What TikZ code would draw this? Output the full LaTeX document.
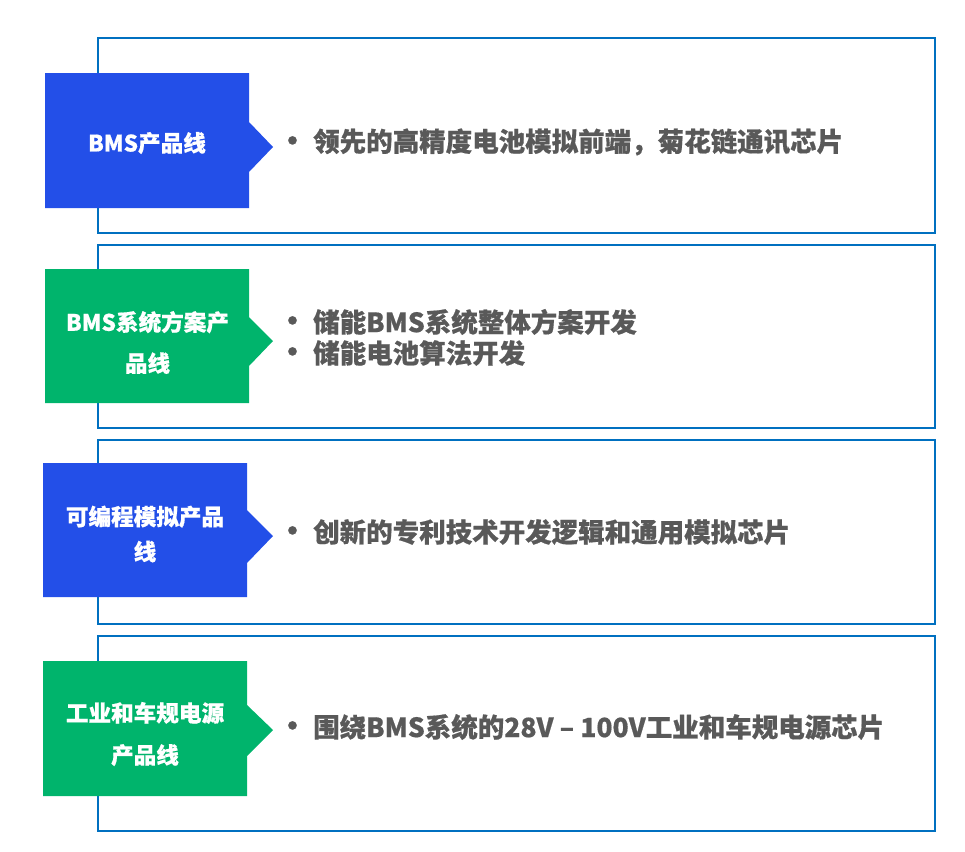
\documentclass[tikz,border=0pt]{standalone}
\usepackage{fontspec}
\newfontfamily\cjk{Noto Sans CJK SC}[BoldFeatures={FakeBold=0.6}]
\definecolor{lineblue}{HTML}{0070C0}
\definecolor{boxblue}{HTML}{234FE8}
\definecolor{boxgreen}{HTML}{00B46C}
\definecolor{textgray}{HTML}{595959}
\tikzset{
  frame/.style={draw=lineblue, line width=2pt},
  boxtext/.style={text=white, align=center, inner sep=0pt},
  itemtext/.style={text=textgray, anchor=west, inner sep=0pt,
    font=\cjk\bfseries\fontsize{26.5}{31}\selectfont},
  bullet/.style={text=textgray, inner sep=0pt,
    font=\cjk\bfseries\fontsize{30}{31}\selectfont}
}
\begin{document}
\begin{tikzpicture}[x=1pt,y=-1pt]
\useasboundingbox (0,0) rectangle (965,851);
% section frames
\draw[frame] (98,38) rectangle (935,233);
\draw[frame] (98,245) rectangle (935,428);
\draw[frame] (98,440) rectangle (935,624);
\draw[frame] (98,636) rectangle (935,831);
% boxes with pointers
\fill[boxblue] (45,73) -- (249,73) -- (249,122) -- (273,147) -- (249,172) -- (249,208) -- (45,208) -- cycle;
\fill[boxgreen] (45,269) -- (249,269) -- (249,317) -- (273,341) -- (249,366) -- (249,403) -- (45,403) -- cycle;
\fill[boxblue] (43,463) -- (247,463) -- (247,510) -- (273,536) -- (247,563) -- (247,597) -- (43,597) -- cycle;
\fill[boxgreen] (43,661) -- (247,661) -- (247,705) -- (273,730) -- (247,756) -- (247,796) -- (43,796) -- cycle;
% box labels
\node[boxtext, font=\cjk\bfseries\fontsize{22.6}{40}\selectfont] (l1) at (147,143) {BMS产品线};
\node[boxtext, font=\cjk\bfseries\fontsize{22.6}{41}\selectfont] (l2) at (147.5,342.5) {BMS系统方案产\\品线};
\node[boxtext, font=\cjk\bfseries\fontsize{22.6}{35}\selectfont] (l3) at (145,534) {可编程模拟产品\\线};
\node[boxtext, font=\cjk\bfseries\fontsize{22.6}{42}\selectfont] (l4) at (145,734) {工业和车规电源\\产品线};
% bullets and items
\node[bullet] (b1) at (292.5,144) {•};
\node[itemtext] (t1) at (313,142) {领先的高精度电池模拟前端，菊花链通讯芯片};
\node[bullet] (b2) at (292.5,324) {•};
\node[itemtext] (t2) at (313,322) {储能BMS系统整体方案开发};
\node[bullet] (b3) at (292.5,355) {•};
\node[itemtext] (t3) at (313,353) {储能电池算法开发};
\node[bullet] (b4) at (292.5,534) {•};
\node[itemtext] (t4) at (313,532) {创新的专利技术开发逻辑和通用模拟芯片};
\node[bullet] (b5) at (292.5,729) {•};
\node[itemtext] (t5) at (313,727) {围绕BMS系统的28V – 100V工业和车规电源芯片};
\end{tikzpicture}
\end{document}
